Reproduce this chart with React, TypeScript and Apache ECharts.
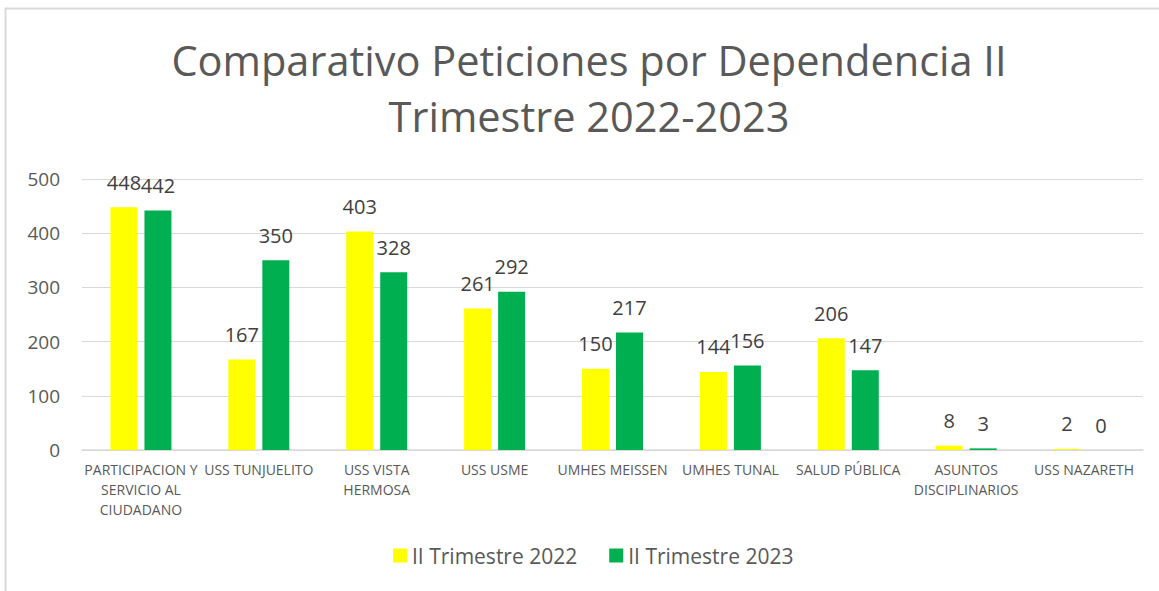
import React, { useEffect, useRef } from "react";
import * as echarts from "echarts";

const categories = [
  "PARTICIPACION Y\nSERVICIO AL\nCIUDADANO",
  "USS TUNJUELITO",
  "USS VISTA\nHERMOSA",
  "USS USME",
  "UMHES MEISSEN",
  "UMHES TUNAL",
  "SALUD PÚBLICA",
  "ASUNTOS\nDISCIPLINARIOS",
  "USS NAZARETH",
];
const series2022 = [448, 167, 403, 261, 150, 144, 206, 8, 2];
const series2023 = [442, 350, 328, 292, 217, 156, 147, 3, 0];
const seriesNames = ["II Trimestre 2022", "II Trimestre 2023"];
const titleText = "Comparativo Peticiones por Dependencia II\nTrimestre 2022-2023";

const FONT = "'Open Sans', 'Noto Sans', sans-serif";

export default function App() {
  const ref = useRef<HTMLDivElement>(null);
  useEffect(() => {
    if (!ref.current) return;
    const chart = echarts.init(ref.current, null, { renderer: "svg" });
    const labelStyle = {
      show: true,
      position: "top" as const,
      distance: 15,
      color: "#404040",
      fontSize: 20,
      fontFamily: FONT,
    };
    chart.setOption({
      animation: false,
      backgroundColor: "#ffffff",
      legend: {
        bottom: 20,
        left: 388,
        itemWidth: 14,
        itemHeight: 14,
        itemGap: 32,
        icon: "rect",
        textStyle: { color: "#595959", fontSize: 21, fontFamily: FONT },
        data: seriesNames,
      },
      grid: { left: 82, right: 16, top: 179, bottom: 141, containLabel: false },
      xAxis: {
        type: "category",
        data: categories,
        axisLine: { lineStyle: { color: "#d9d9d9", width: 1.5 } },
        axisTick: { show: false },
        axisLabel: {
          color: "#595959",
          fontSize: 14,
          fontFamily: FONT,
          interval: 0,
          margin: 9,
          lineHeight: 20,
        },
      },
      yAxis: {
        type: "value",
        min: 0,
        max: 500,
        interval: 100,
        axisLine: { show: false },
        axisTick: { show: false },
        splitLine: { lineStyle: { color: "#d9d9d9", width: 1 } },
        axisLabel: { color: "#595959", fontSize: 19, fontFamily: FONT, margin: 22 },
      },
      graphic: [
        { type: "line", shape: { x1: 5.5, y1: 8, x2: 5.5, y2: 591 }, style: { stroke: "#d9d9d9", lineWidth: 2 } },
        { type: "line", shape: { x1: 5, y1: 8.5, x2: 1159, y2: 8.5 }, style: { stroke: "#d9d9d9", lineWidth: 2 } },
        {
          type: "text",
          x: 589,
          y: 32,
          style: {
            text: titleText,
            fill: "#595959",
            fontSize: 41.5,
            fontFamily: FONT,
            lineHeight: 56,
            textAlign: "center",
            textVerticalAlign: "top",
          },
        },
      ],
      series: [
        {
          name: seriesNames[0],
          type: "bar",
          data: series2022,
          barWidth: 27,
          barGap: "26%",
          itemStyle: { color: "#ffff00" },
          label: labelStyle,
        },
        {
          name: seriesNames[1],
          type: "bar",
          data: series2023,
          barWidth: 27,
          barGap: "26%",
          itemStyle: { color: "#00b050" },
          label: labelStyle,
        },
      ],
    });
    return () => chart.dispose();
  }, []);
  return (
    <div
      ref={ref}
      style={{ position: "fixed", left: 0, top: 0, width: 1159, height: 591 }}
    />
  );
}
